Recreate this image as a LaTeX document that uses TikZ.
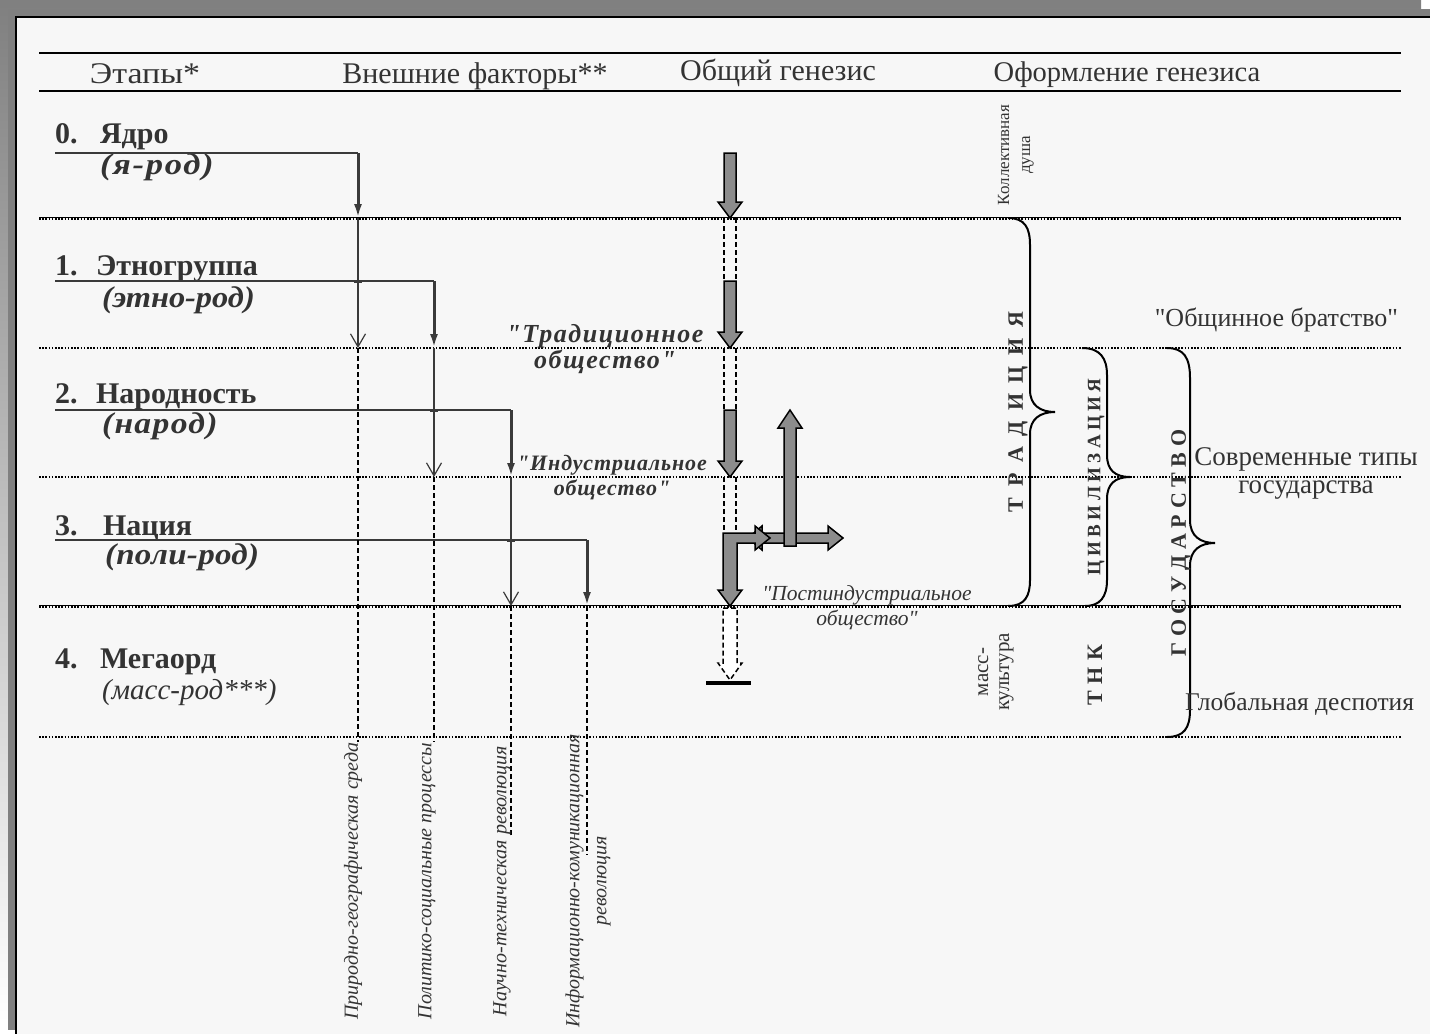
\documentclass[tikz,border=0pt]{standalone}
\usepackage{fontspec}
\setmainfont{Liberation Serif}[Ligatures=TeXOff]
\usetikzlibrary{arrows.meta}
\definecolor{txt}{HTML}{333333}
\definecolor{shade}{HTML}{E6E6E6}
\definecolor{band}{HTML}{808080}
\definecolor{paper}{HTML}{F7F7F7}
\definecolor{blk}{HTML}{8C8C8C}
\definecolor{dk}{HTML}{3A3A3A}
\newcommand{\blkdown}[3]{%
  \filldraw[blockarr] (#1-6,#2) -- (#1+6,#2) -- (#1+6,#3-16) -- (#1+12,#3-16) -- (#1,#3) -- (#1-12,#3-16) -- (#1-6,#3-16) -- cycle;}
\newcommand{\hstretch}[2]{\scalebox{#1}[1]{#2}}
\begin{document}
\begin{tikzpicture}[x=1pt,y=-1pt,
  every node/.style={inner sep=0pt,outer sep=0pt,text=txt},
  hdr/.style={font=\fontsize{30}{30}\selectfont,anchor=base},
  stg/.style={font=\fontsize{30}{30}\selectfont\bfseries,anchor=base west},
  stgi/.style={font=\fontsize{30}{30}\selectfont\bfseries\itshape\addfontfeature{LetterSpace=#1},anchor=base west},
  soc/.style={font=\fontsize{26}{26}\selectfont\bfseries\itshape\addfontfeature{LetterSpace=6},anchor=base},
  socb/.style={font=\fontsize{22}{22}\selectfont\bfseries\itshape\addfontfeature{LetterSpace=4},anchor=base},
  socc/.style={font=\fontsize{21.5}{22}\selectfont\itshape,anchor=base},
  side/.style={font=\fontsize{26}{26}\selectfont},
  vlab/.style={font=\fontsize{20}{27}\selectfont\itshape,rotate=90,align=center},
  brlab/.style={font=\fontsize{#1}{22}\selectfont\bfseries,rotate=90},
  small/.style={font=\fontsize{#1}{21}\selectfont,rotate=90,align=center},
  dotline/.style={line width=1.5pt,dash pattern=on 1.5pt off 1.7pt},
  rule/.style={line width=2.5pt},
  thickarr/.style={line width=3pt,draw=dk,-{Latex[length=14pt,width=8pt]}},
  thinarr/.style={line width=1.3pt,draw=dk,-{Straight Barb[length=13pt,width=15pt,line width=1.2pt]}},
  dashv/.style={line width=1.2pt,dash pattern=on 5pt off 3pt},
  stageline/.style={line width=1.5pt,draw=dk},
  blockarr/.style={fill=blk,draw=black,line width=1.5pt,line join=miter},
  brace/.style={line width=2pt},
  tick/.style={fill=dk,draw=none}
]
\useasboundingbox (0,0) rectangle (1430,1034);
% frame
\fill[white] (0,0) rectangle (1430,1034);
\fill[shade] (0,0) rectangle (1421,1022);
\fill[band] (8,9) rectangle (1430,1030);
\fill[black] (15,16) rectangle (1430,1034);
\fill[paper] (17,18) rectangle (1430,1034);

% header rules
\coordinate (rA) at (39,53); \coordinate (rB) at (1401,53);
\coordinate (rC) at (39,91); \coordinate (rD) at (1401,91);
\draw[rule] (rA) -- (rB);
\draw[rule] (rC) -- (rD);

% headers
\node[hdr] (h1) at (145,83) {\hstretch{1.13}{Этапы*}};
\node[hdr] (h2) at (475,83) {Внешние факторы**};
\node[hdr] (h3) at (778,80) {Общий генезис};
\node[hdr,font=\fontsize{28.5}{30}\selectfont] (h4) at (1127,81) {Оформление генезиса};

% horizontal stage boundaries
\foreach \yy/\nm in {348/L1,477/L2,737/L4}{
  \coordinate (\nm a) at (39,\yy); \coordinate (\nm b) at (1401,\yy);
  \draw[dotline] (\nm a) -- (\nm b);}
\foreach \yy/\nm in {218/L0,606/L3}{
  \coordinate (\nm a) at (39,\yy); \coordinate (\nm b) at (1401,\yy);
  \draw[line width=1pt] ([yshift=1pt]\nm a) -- ([yshift=1pt]\nm b);
  \draw[dotline] ([yshift=-1pt]\nm a) -- ([yshift=-1pt]\nm b);}

% stage labels
\node[stg] (n0) at (55,143) {0.};
\node[stg] (t0) at (100,143) {Ядро};
\node[stgi=5] (i0) at (100,174) {\hstretch{1.15}{(я-род)}};
\node[stg] (n1) at (55,275) {1.};
\node[stg] (t1) at (96,275) {Этногруппа};
\node[stgi=0] (i1) at (102,307) {\hstretch{1.08}{(этно-род)}};
\node[stg] (n2) at (55,403) {2.};
\node[stg] (t2) at (96,403) {Народность};
\node[stgi=4] (i2) at (102,433) {\hstretch{1.12}{(народ)}};
\node[stg] (n3) at (55,535) {3.};
\node[stg] (t3) at (103,535) {Нация};
\node[stgi=1] (i3) at (105,564) {\hstretch{1.1}{(поли-род)}};
\node[stg] (n4) at (55,668) {4.};
\node[stg] (t4) at (100,668) {Мегаорд};
\node[stgi=0,font=\fontsize{29}{29}\selectfont\itshape] (i4) at (102,699) {(масс-род***)};

% external factor lines
\coordinate (s0) at (55,153);  \coordinate (c0) at (358,153);
\coordinate (s1) at (55,281);  \coordinate (c1) at (434,281);
\coordinate (s2) at (55,410);  \coordinate (c2) at (511,410);
\coordinate (s3) at (55,540);  \coordinate (c3) at (587,540);
\draw[stageline] (s0) -- (c0);
\draw[stageline] (s1) -- (c1);
\draw[stageline] (s2) -- (c2);
\draw[stageline] (s3) -- (c3);
\coordinate (a1) at (358,218); \coordinate (a2) at (358,348); \coordinate (a3) at (358,742);
\coordinate (b1) at (434,348); \coordinate (b2) at (434,477); \coordinate (b3) at (434,742);
\coordinate (d1) at (511,477); \coordinate (d2) at (511,606); \coordinate (d3) at (511,835);
\coordinate (e1) at (587,606); \coordinate (e3) at (587,855);
\draw[thickarr] (c0) -- (a1);
\draw[thinarr] (a1) -- (a2);
\draw[dashv] (a2) -- (a3);
\draw[thickarr] (c1) -- (b1);
\draw[thinarr] (b1) -- (b2);
\draw[dashv] (b2) -- (b3);
\draw[thickarr] (c2) -- (d1);
\draw[thinarr] (d1) -- (d2);
\draw[dashv] (d2) -- (d3);
\draw[thickarr] (c3) -- (e1);
\draw[dashv] (e1) -- (e3);
\fill[tick] (354,279.5) rectangle (362,282.5);
\fill[tick] (430,408.5) rectangle (438,411.5);
\fill[tick] (507,538.5) rectangle (515,541.5);

% bottom vertical labels
\node[vlab] (v1) at (353,881) {Природно-географическая среда};
\node[vlab] (v2) at (427,881) {Политико-социальные процессы};
\node[vlab] (v3) at (502,881) {Научно-техническая революция};
\node[vlab] (v4) at (588,881) {Информационно-комуникационная\\революция};

% general genesis column
\blkdown{730}{153}{218}
\blkdown{730}{281}{348}
\blkdown{730}{410}{477}
\foreach \ya/\yb in {218/281,348/410,477/533}{
  \draw[dashv] (724,\ya) -- (724,\yb);
  \draw[dashv] (736,\ya) -- (736,\yb);}
\filldraw[blockarr] (748,538) -- (762,526) -- (762,533) -- (828,533) -- (828,526) -- (843,538) -- (828,550) -- (828,543) -- (762,543) -- (762,550) -- cycle;
\filldraw[blockarr] (723,533) -- (755,533) -- (755,526) -- (770,538) -- (755,550) -- (755,543) -- (737,543) -- (737,590) -- (742,590) -- (730,606) -- (718,590) -- (723,590) -- cycle;
\filldraw[blockarr] (784,546) -- (784,428) -- (778,428) -- (790,410) -- (802,428) -- (796,428) -- (796,546) -- cycle;
\filldraw[fill=white,draw=black,line width=1.5pt,dash pattern=on 5pt off 3pt] (723,608) -- (737,608) -- (737,663) -- (742,663) -- (730,680) -- (718,663) -- (723,663) -- cycle;
\coordinate (barL) at (706,683); \coordinate (barR) at (751,683);
\draw[line width=4pt] (barL) -- (barR);

% society labels
\node[soc] (tr1) at (605,342) {"Традиционное};
\node[soc] (tr2) at (605,368) {общество"};
\node[socb] (in1) at (612,470) {"Индустриальное};
\node[socb] (in2) at (612,495) {общество"};
\node[socc] (po1) at (867,600) {"Постиндустриальное};
\node[socc] (po2) at (867,625) {общество"};

% right column
\node[small=17] (kd) at (1016,155) {Коллективная\\душа};
\node[small=21] (mk) at (996,672) {масс-\\культура};
\draw[brace] (1008,218) .. controls (1025,218) and (1030,228) .. (1030,245) -- (1030,390)
  .. controls (1030,405) and (1040,412) .. (1055,412) .. controls (1040,412) and (1030,419) .. (1030,434)
  -- (1030,580) .. controls (1030,596) and (1025,606) .. (1008,606);
\draw[brace] (1082,348) .. controls (1100,348) and (1107,358) .. (1107,375) -- (1107,455)
  .. controls (1107,470) and (1115,477) .. (1130,477) .. controls (1115,477) and (1107,484) .. (1107,499)
  -- (1107,580) .. controls (1107,597) and (1100,606) .. (1085,606);
\draw[brace] (1167,348) .. controls (1184,348) and (1190,358) .. (1190,378) -- (1190,520)
  .. controls (1190,536) and (1200,543) .. (1215,543) .. controls (1200,543) and (1190,550) .. (1190,566)
  -- (1190,710) .. controls (1190,728) and (1184,737) .. (1167,737);
\node[brlab=22] (trad) at (1018,412) {\makebox[200pt][s]{Т Р А Д И Ц И Я}};
\node[brlab=19] (civ) at (1096,477) {\makebox[197pt][s]{Ц И В И Л И З А Ц И Я}};
\node[brlab=22] (tnk) at (1095,675) {\makebox[60pt][s]{Т Н К}};
\node[brlab=22] (gos) at (1181,543) {\makebox[227pt][s]{Г О С У Д А Р С Т В О}};
\node[side,anchor=base east] (ob) at (1398,326) {"Общинное братство"};
\node[side,anchor=base,font=\fontsize{27}{27}\selectfont] (st1) at (1306,465) {Современные типы};
\node[side,anchor=base,font=\fontsize{27}{27}\selectfont] (st2) at (1306,493) {государства};
\node[side,anchor=base west,font=\fontsize{25.5}{26}\selectfont] (gd) at (1185,710) {Глобальная деспотия};
\end{tikzpicture}
\end{document}
